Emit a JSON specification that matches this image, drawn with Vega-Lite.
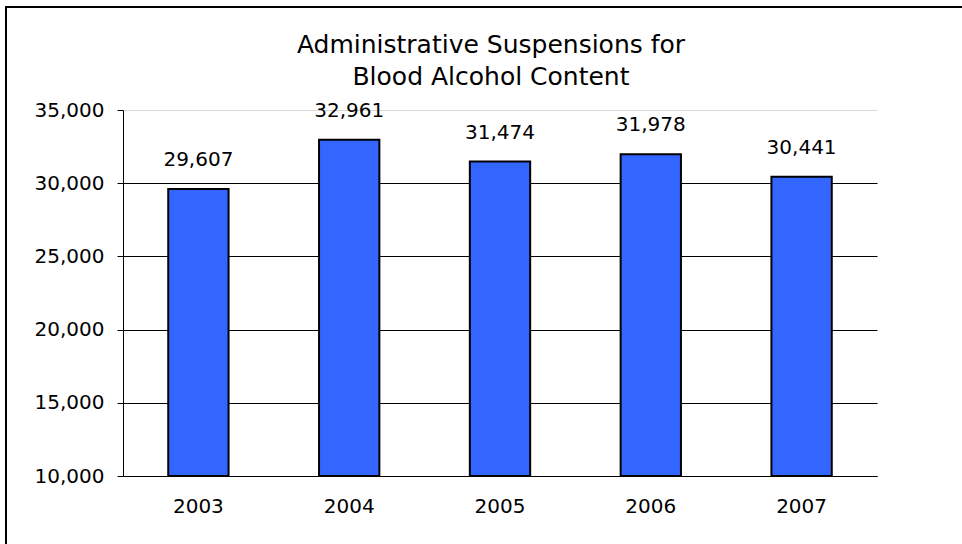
{
  "$schema": "https://vega.github.io/schema/vega-lite/v6.json",
  "autosize": "none",
  "padding": {"left": 6, "top": 7, "right": 0, "bottom": 0},
  "width": 960,
  "height": 540,
  "background": "white",
  "config": {
    "view": {"stroke": "black", "strokeWidth": 2},
    "font": "DejaVu Sans"
  },
  "title": {
    "text": ["Administrative Suspensions for", "Blood Alcohol Content"],
    "font": "DejaVu Sans",
    "fontSize": 25,
    "fontWeight": "normal",
    "color": "black",
    "lineHeight": 32,
    "anchor": "middle",
    "frame": "group",
    "baseline": "top",
    "offset": 0,
    "dx": 5,
    "dy": 83
  },
  "data": {
    "values": [
      {"year": "2003", "value": 29607},
      {"year": "2004", "value": 32961},
      {"year": "2005", "value": 31474},
      {"year": "2006", "value": 31978},
      {"year": "2007", "value": 30441}
    ]
  },
  "encoding": {
    "x": {
      "field": "year",
      "type": "ordinal",
      "scale": {"range": [117, 871], "paddingInner": 0.6, "paddingOuter": 0.3},
      "axis": {
        "title": null,
        "orient": "bottom",
        "offset": -71,
        "labelAngle": 0,
        "ticks": false,
        "domainColor": "black",
        "domainWidth": 1,
        "labelFont": "DejaVu Sans",
        "labelFontSize": 20,
        "labelColor": "black",
        "labelPadding": 20,
        "grid": false,
        "zindex": 1
      }
    },
    "y": {
      "field": "value",
      "type": "quantitative",
      "scale": {"domain": [10000, 35000], "range": [469, 103], "zero": false, "nice": false},
      "axis": {
        "title": null,
        "orient": "left",
        "offset": -117,
        "values": [10000, 15000, 20000, 25000, 30000, 35000],
        "format": ",.0f",
        "domainColor": "black",
        "domainWidth": 1,
        "tickColor": "black",
        "tickSize": 6,
        "tickWidth": 1,
        "labelFont": "DejaVu Sans",
        "labelFontSize": 20,
        "labelColor": "black",
        "labelPadding": 13,
        "grid": true,
        "gridColor": {"condition": {"test": "datum.value === 35000", "value": "#d9d9d9"}, "value": "black"},
        "gridWidth": 1
      }
    }
  },
  "layer": [
    {
      "mark": {"type": "bar", "color": "#3366FF", "stroke": "black", "strokeWidth": 2},
      "encoding": {"y2": {"datum": 10000}}
    },
    {
      "mark": {"type": "text", "baseline": "middle", "align": "center", "dy": -29, "font": "DejaVu Sans", "fontSize": 20, "color": "black"},
      "encoding": {"text": {"field": "value", "type": "quantitative", "format": ","}}
    }
  ]
}
